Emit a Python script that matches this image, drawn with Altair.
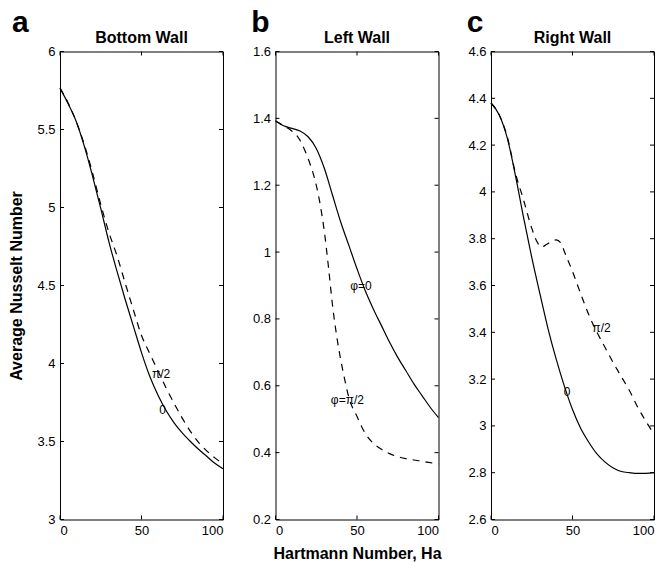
import altair as alt
import pandas as pd

# ---------------- data ----------------
HA = [0, 5, 10, 15, 20, 25, 30, 35, 40, 45, 50, 55, 60, 65, 70, 75, 80, 85, 90, 95, 100]

# Bottom wall
A_PHI0 = [5.765, 5.665, 5.55, 5.39, 5.20, 4.995, 4.78, 4.59, 4.41, 4.24, 4.07,
          3.92, 3.80, 3.70, 3.62, 3.555, 3.50, 3.45, 3.405, 3.36, 3.325]
A_PHI90 = [5.765, 5.67, 5.55, 5.40, 5.22, 5.02, 4.84, 4.69, 4.515, 4.345, 4.18,
           4.065, 3.955, 3.845, 3.745, 3.65, 3.565, 3.495, 3.44, 3.395, 3.36]

# Left wall
B_PHI0 = [1.392, 1.378, 1.37, 1.362, 1.345, 1.31, 1.25, 1.17, 1.09, 1.02, 0.95,
          0.885, 0.83, 0.78, 0.73, 0.685, 0.645, 0.605, 0.57, 0.535, 0.505]
B_PHI90_X = [0, 5, 10, 15, 17.5, 20, 22.5, 25, 27.5, 30, 32.5, 35, 37.5, 40, 42.5,
             45, 50, 55, 60, 65, 70, 75, 80, 85, 90, 95, 100]
B_PHI90 = [1.392, 1.378, 1.362, 1.335, 1.31, 1.28, 1.245, 1.20, 1.14, 1.06, 0.955,
           0.84, 0.75, 0.678, 0.618, 0.565, 0.508, 0.458, 0.428, 0.41, 0.397,
           0.388, 0.382, 0.378, 0.374, 0.37, 0.366]

# Right wall
C_PHI0 = [4.38, 4.33, 4.23, 4.07, 3.89, 3.72, 3.565, 3.415, 3.285, 3.17, 3.07,
          2.99, 2.93, 2.88, 2.845, 2.82, 2.805, 2.80, 2.797, 2.797, 2.80]
C_PHI90_X = [0, 5, 10, 15, 20, 25, 28, 31, 34, 37, 40, 43, 45, 50, 55, 60, 65, 70,
             75, 80, 85, 90, 95, 100]
C_PHI90 = [4.38, 4.33, 4.235, 4.08, 3.965, 3.845, 3.79, 3.765, 3.775, 3.788, 3.795,
           3.78, 3.745, 3.66, 3.565, 3.475, 3.40, 3.335, 3.27, 3.21, 3.15, 3.08,
           3.02, 2.965]

PANEL_LETTERS = ["a", "b", "c"]
PANEL_TITLES = ["Bottom Wall", "Left Wall", "Right Wall"]
Y_DOMAINS = [[3, 6], [0.2, 1.6], [2.6, 4.6]]
Y_TICKS = [[3, 3.5, 4, 4.5, 5, 5.5, 6],
           [0.2, 0.4, 0.6, 0.8, 1, 1.2, 1.4, 1.6],
           [2.6, 2.8, 3, 3.2, 3.4, 3.6, 3.8, 4, 4.2, 4.4, 4.6]]
X_TICKS = [0, 50, 100]
CURVE_LABELS = [["π/2", "0"], ["φ=0", "φ=π/2"], ["π/2", "0"]]
CURVE_LABEL_X = [[62, 63], [52.4, 44.1], [67.8, 46.7]]
CURVE_LABEL_Y = [[3.93, 3.70], [0.90, 0.557], [3.417, 3.145]]

Y_TITLE = "Average Nusselt Number"
X_TITLE = "Hartmann Number, Ha"

# ---------------- styling ----------------
FONT = "Liberation Sans"
W, H = 163, 468
TICK = 4
LETTER_DX = [-39.7, -15, -16]


def panel(i, xs0, ys0, xs1, ys1):
    xscale = alt.Scale(domain=[0, 100], nice=False, zero=False)
    yscale = alt.Scale(domain=Y_DOMAINS[i], nice=False, zero=False)
    xaxis = alt.Axis(values=X_TICKS, format="d", tickSize=0, labelPadding=5,
                     domain=False, grid=False, titlePadding=8)
    yaxis = alt.Axis(values=Y_TICKS[i], format="~g", tickSize=0, labelPadding=5,
                     domain=False, grid=False, titlePadding=12, labelFlush=False)
    xtitle = X_TITLE if i == 1 else ""
    ytitle = Y_TITLE if i == 0 else ""

    def X(field):
        return alt.X(field, scale=xscale, axis=xaxis, title=xtitle)

    def Y(field):
        return alt.Y(field, scale=yscale, axis=yaxis, title=ytitle)

    solid = alt.Chart(pd.DataFrame({"Ha": xs0, "Nu": ys0})).mark_line(
        color="black", strokeWidth=1.2, interpolate="monotone"
    ).encode(x=X("Ha:Q"), y=Y("Nu:Q"))

    dashed = alt.Chart(pd.DataFrame({"Ha": xs1, "Nu": ys1})).mark_line(
        color="black", strokeWidth=1.2, strokeDash=[7, 6], interpolate="monotone"
    ).encode(x=X("Ha:Q"), y=Y("Nu:Q"))

    xt = pd.DataFrame({"Ha": X_TICKS})
    yt = pd.DataFrame({"Nu": Y_TICKS[i]})
    rule = dict(color="black", strokeWidth=1)
    xbot = alt.Chart(xt).mark_rule(**rule).encode(
        x=X("Ha:Q"), y=alt.value(H), y2=alt.value(H - TICK))
    xtop = alt.Chart(xt).mark_rule(**rule).encode(
        x=X("Ha:Q"), y=alt.value(0), y2=alt.value(TICK))
    yleft = alt.Chart(yt).mark_rule(**rule).encode(
        y=Y("Nu:Q"), x=alt.value(0), x2=alt.value(TICK))
    yright = alt.Chart(yt).mark_rule(**rule).encode(
        y=Y("Nu:Q"), x=alt.value(W - TICK), x2=alt.value(W))

    labels = alt.Chart(pd.DataFrame({
        "Ha": CURVE_LABEL_X[i], "Nu": CURVE_LABEL_Y[i], "txt": CURVE_LABELS[i]
    })).mark_text(font=FONT, fontSize=12, color="black", align="center",
                  baseline="middle").encode(x=X("Ha:Q"), y=Y("Nu:Q"), text="txt:N")

    letter = alt.Chart(pd.DataFrame({"l": [PANEL_LETTERS[i]]})).mark_text(
        font=FONT, fontSize=30, fontWeight="bold", color="black",
        align="center", baseline="alphabetic"
    ).encode(x=alt.value(LETTER_DX[i]), y=alt.value(-19.4), text="l:N")

    title = alt.Chart(pd.DataFrame({"t": [PANEL_TITLES[i]]})).mark_text(
        font=FONT, fontSize=16, fontWeight="bold", color="black",
        align="center", baseline="alphabetic"
    ).encode(x=alt.value(W / 2), y=alt.value(-9), text="t:N")

    return alt.layer(solid, dashed, xbot, xtop, yleft, yright, labels, letter,
                     title).properties(width=W, height=H)


pa = panel(0, HA, A_PHI0, HA, A_PHI90)
pb = panel(1, HA, B_PHI0, B_PHI90_X, B_PHI90)
pc = panel(2, HA, C_PHI0, C_PHI90_X, C_PHI90)

chart = alt.hconcat(pa, pb, pc, spacing=52.5, bounds="flush").configure_view(
    stroke="black", strokeWidth=1
).configure_axis(
    labelFont=FONT, labelFontSize=13, labelColor="black",
    titleFont=FONT, titleFontSize=16, titleFontWeight="bold", titleColor="black",
).properties(
    padding={"left": 8, "top": 7.5, "right": 2, "bottom": 2},
    background="white",
)

chart.save("out.html", embed_options={"renderer": "svg", "actions": False})
